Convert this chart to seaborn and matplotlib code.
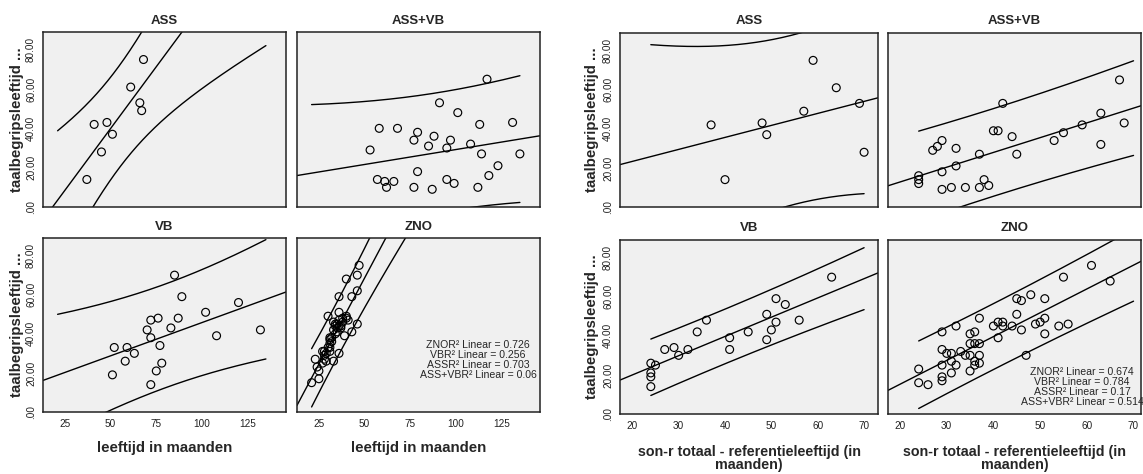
import numpy as np
import pandas as pd
import matplotlib
matplotlib.use("Agg")
import matplotlib.pyplot as plt
import seaborn as sns

# ---------------- data ----------------
titles = ["ASS", "ASS+VB", "VB", "ZNO"]
y_ticks = [0, 20, 40, 60, 80]
y_ticklabels = [".00", "20.00", "40.00", "60.00", "80.00"]
left_xticks = [25, 50, 75, 100, 125]
right_xticks = [20, 30, 40, 50, 60, 70]

# Left chart: x = leeftijd in maanden
ass_age = [37, 41, 45, 48, 51, 61, 66, 67, 68]
ass_taal_l = [14, 42, 28, 43, 37, 61, 53, 49, 75]
assvb_age = [53, 57, 58, 61, 62, 66, 68, 77, 77, 79, 79, 85, 87, 88, 91, 95, 95, 97,
             99, 101, 108, 112, 113, 114, 117, 118, 123, 131, 135]
assvb_taal_l = [29, 14, 40, 13, 10, 13, 40, 34, 10, 18, 38, 31, 9, 36, 53, 30, 14, 34,
                12, 48, 32, 10, 42, 27, 65, 16, 21, 43, 27]
vb_age = [51, 52, 58, 59, 63, 70, 72, 72, 72, 75, 76, 77, 78, 83, 85, 87, 89, 102, 108, 120, 132]
vb_taal_l = [19, 33, 26, 33, 30, 42, 38, 47, 14, 21, 48, 34, 25, 43, 70, 48, 59, 51, 39, 56, 42]
zno_age = [21, 23, 24, 25, 25, 27, 27, 28, 28, 29, 30, 31, 31, 32, 33, 33, 34, 34, 35, 36,
           36, 36, 37, 38, 39, 40, 40, 40, 41, 43, 43, 46, 46, 46, 47,
           31, 31, 30, 31, 32, 34, 35, 36, 36, 33, 37, 29, 28, 38, 35]
zno_taal_l = [15, 27, 23, 17, 21, 25, 31, 27, 29, 26, 49, 33, 37, 36, 26, 42, 45, 44, 45, 30,
              59, 51, 43, 46, 39, 49, 68, 48, 47, 41, 59, 62, 45, 70, 75,
              38, 35, 33, 31, 38, 40, 43, 44, 47, 46, 44, 30, 31, 48, 41]
left_r2 = ["ZNOR² Linear = 0.726", "VBR² Linear = 0.256", "ASSR² Linear = 0.703",
           "ASS+VBR² Linear = 0.06"]

# Right chart: x = son-r totaal - referentieleeftijd
ass_sonr = [37, 40, 48, 49, 57, 59, 64, 69, 70]
ass_taal_r = [42, 14, 43, 37, 49, 75, 61, 53, 28]
assvb_sonr = [24, 24, 24, 27, 28, 29, 29, 29, 31, 32, 32, 34, 37, 37, 38, 39, 40, 41, 42,
              44, 45, 53, 55, 59, 63, 63, 67, 68]
assvb_taal_r = [16, 14, 12, 29, 31, 34, 18, 9, 10, 30, 21, 10, 27, 10, 14, 11, 39, 39, 53,
                36, 27, 34, 38, 42, 48, 32, 65, 43]
vb_sonr = [24, 24, 24, 24, 25, 27, 29, 30, 32, 34, 36, 41, 41, 45, 49, 49, 50, 51, 51, 53, 56, 63]
vb_taal_r = [26, 21, 19, 14, 25, 33, 34, 30, 33, 42, 48, 39, 33, 42, 51, 38, 43, 59, 47, 56, 48, 70]
zno_sonr = [24, 24, 26, 29, 29, 29, 29, 29, 30, 31, 31, 31, 32, 32, 33, 34, 35, 35, 35, 35,
            36, 36, 36, 36, 37, 37, 37, 37, 40, 41, 41, 42, 42, 44, 45, 45, 46, 46, 47, 48,
            49, 50, 51, 51, 51, 54, 55, 56, 61, 65]
zno_taal_r = [23, 16, 15, 42, 33, 25, 19, 17, 31, 31, 27, 21, 45, 25, 32, 30, 41, 36, 30, 22,
              42, 36, 27, 25, 49, 36, 30, 26, 45, 47, 39, 47, 45, 45, 59, 51, 58, 43, 30, 61,
              46, 47, 59, 49, 41, 45, 70, 46, 76, 68]
right_r2 = ["ZNOR² Linear = 0.674", "VBR² Linear = 0.784", "ASSR² Linear = 0.17",
            "ASS+VBR² Linear = 0.514"]

left_groups = [(ass_age, ass_taal_l), (assvb_age, assvb_taal_l),
               (vb_age, vb_taal_l), (zno_age, zno_taal_l)]
right_groups = [(ass_sonr, ass_taal_r), (assvb_sonr, assvb_taal_r),
                (vb_sonr, vb_taal_r), (zno_sonr, zno_taal_r)]

# ---------------- style ----------------
sns.set_theme(style="white")
plt.rcParams['font.family'] = ['Liberation Sans', 'DejaVu Sans']
BG = "#F0F0F0"
LABEL_FS = 10.8

W, H = 1143, 474
fig = plt.figure(figsize=(W / 100, H / 100), dpi=100)


def add_ax(l, t, r, b):
    return fig.add_axes([l / W, 1 - b / H, (r - l) / W, (b - t) / H])


def t975(df):
    z = 1.959964
    return (z + (z**3 + z) / (4 * df) + (5 * z**5 + 16 * z**3 + 3 * z) / (96 * df**2)
            + (3 * z**7 + 19 * z**5 + 17 * z**3 - 15 * z) / (384 * df**3))


def draw_panel(ax, x, y, xlim, pi_range):
    x = np.asarray(x, float)
    y = np.asarray(y, float)
    n = len(x)
    b, a = np.polyfit(x, y, 1)
    xm = x.mean()
    sxx = ((x - xm) ** 2).sum()
    s = np.sqrt(((y - (a + b * x)) ** 2).sum() / (n - 2))
    t = t975(n - 2)
    gfit = np.linspace(xlim[0], xlim[1], 200)
    gpi = np.linspace(pi_range[0], pi_range[1], 300)
    half = t * s * np.sqrt(1 + 1 / n + (gpi - xm) ** 2 / sxx)
    lines = pd.DataFrame({
        "x": np.concatenate([gfit, gpi, gpi]),
        "y": np.concatenate([a + b * gfit, a + b * gpi + half, a + b * gpi - half]),
        "kind": ["fit"] * len(gfit) + ["hi"] * len(gpi) + ["lo"] * len(gpi),
    })
    pts = pd.DataFrame({"x": x, "y": y})
    sns.scatterplot(data=pts, x="x", y="y", ax=ax, marker="o", s=32,
                    facecolors="none", edgecolor="black", linewidth=0.85, zorder=3)
    sns.lineplot(data=lines, x="x", y="y", units="kind", estimator=None, sort=False,
                 color="black", linewidth=1.0, ax=ax, zorder=2)
    ax.set_xlim(*xlim)
    ax.set_ylim(0, 89)
    ax.set_facecolor(BG)
    for sp in ax.spines.values():
        sp.set_color("#222222")
        sp.set_linewidth(1.1)
    ax.set_xlabel("")
    ax.set_ylabel("")


def style_ticks(ax, show_x, show_y, xticks):
    ax.tick_params(direction="out", length=3, width=0.8, color="black",
                   labelsize=7.2, labelcolor="#222222", pad=2)
    if show_x:
        ax.set_xticks(xticks)
        ax.set_xticklabels([str(v) for v in xticks])
    else:
        ax.set_xticks([])
    if show_y:
        ax.set_yticks(y_ticks)
        ax.set_yticklabels(y_ticklabels, rotation=90, va="center")
    else:
        ax.set_yticks([])


# ---------------- left chart ----------------
left_boxes = [(43, 32, 286, 207), (297, 32, 540, 207), (43, 238, 286, 412), (297, 238, 540, 412)]
left_pi = (min(min(g[0]) for g in left_groups), max(max(g[0]) for g in left_groups))
for i, (box, (gx, gy)) in enumerate(zip(left_boxes, left_groups)):
    ax = add_ax(*box)
    draw_panel(ax, gx, gy, (13, 146), left_pi)
    style_ticks(ax, i >= 2, i % 2 == 0, left_xticks)
    fig.text(((box[0] + box[2]) / 2) / W, 1 - (box[1] - 11) / H, titles[i],
             ha="center", va="center", fontsize=9.5, fontweight="bold")

# ---------------- right chart ----------------
right_boxes = [(620, 33, 878, 207), (888, 33, 1141, 207), (620, 240, 878, 414), (888, 240, 1141, 414)]
right_xlims = [(17.35, 73.0), (17.43, 71.6), (17.35, 73.0), (17.43, 71.6)]
right_pi = (min(min(g[0]) for g in right_groups), max(max(g[0]) for g in right_groups))
for i, (box, (gx, gy)) in enumerate(zip(right_boxes, right_groups)):
    ax = add_ax(*box)
    draw_panel(ax, gx, gy, right_xlims[i], right_pi)
    style_ticks(ax, i >= 2, i % 2 == 0, right_xticks)
    fig.text(((box[0] + box[2]) / 2) / W, 1 - (box[1] - 12) / H, titles[i],
             ha="center", va="center", fontsize=9.5, fontweight="bold")

# axis labels
for xc, (t, b) in [(17, (32, 207)), (17, (238, 412)), (592, (33, 207)), (592, (240, 414))]:
    fig.text(xc / W, 1 - ((t + b) / 2) / H, "taalbegripsleeftijd ...", rotation=90,
             ha="center", va="center", fontsize=LABEL_FS, fontweight="bold")

for xc in [(43 + 286) / 2, (297 + 540) / 2]:
    fig.text(xc / W, 1 - 448 / H, "leeftijd in maanden", ha="center", va="center",
             fontsize=LABEL_FS, fontweight="bold")
for xc in [(620 + 878) / 2, (888 + 1141) / 2]:
    fig.text(xc / W, 1 - 472 / H, "son-r totaal - referentieleeftijd (in\nmaanden)",
             ha="center", va="bottom", fontsize=10.3, fontweight="bold", linespacing=0.92)

# R² legends
fig.text(478 / W, 1 - 360 / H, "\n".join(left_r2), ha="center", va="center",
         multialignment="center", fontsize=7.6, linespacing=1.0)
fig.text(1082 / W, 1 - 387 / H, "\n".join(right_r2), ha="center", va="center",
         multialignment="center", fontsize=7.6, linespacing=1.0)

fig.savefig("out.png", dpi=100, facecolor="white")
